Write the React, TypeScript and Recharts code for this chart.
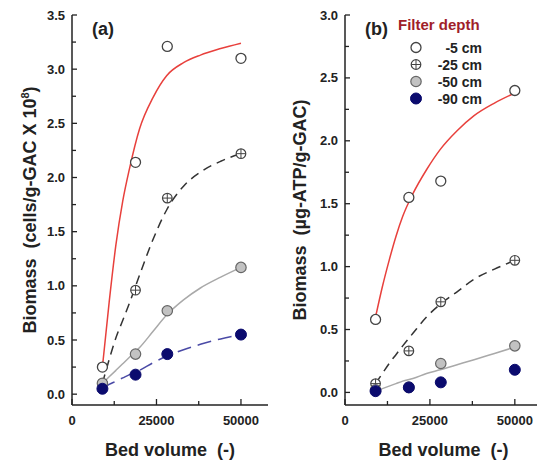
import React from "react";
import { ComposedChart, Line, Scatter, XAxis, YAxis, Legend } from "recharts";

const bedVolume = [9000, 18800, 28200, 50000];
const depths = ["-5 cm", "-25 cm", "-50 cm", "-90 cm"];

// (a) cells/g-GAC x 10^8
const cells5 = [0.25, 2.14, 3.21, 3.1];
const cells25 = [0.1, 0.96, 1.81, 2.22];
const cells50 = [0.1, 0.37, 0.77, 1.17];
const cells90 = [0.05, 0.18, 0.37, 0.55];

// (b) ug-ATP/g-GAC
const atp5 = [0.58, 1.55, 1.68, 2.4];
const atp25 = [0.07, 0.33, 0.72, 1.05];
const atp50 = [0.02, 0.04, 0.23, 0.37];
const atp90 = [0.01, 0.04, 0.08, 0.18];

// fitted curves
const fitBedVolume = [9000, 11000, 13000, 15000, 17000, 20000, 24000, 28000, 33000, 38000, 44000, 50000];
const cellsFit5 = [0.25, 0.85, 1.38, 1.78, 2.08, 2.45, 2.74, 2.94, 3.06, 3.13, 3.19, 3.24];
const cellsFit25 = [0.1, 0.32, 0.52, 0.68, 0.84, 1.1, 1.43, 1.7, 1.92, 2.05, 2.15, 2.22];
const cellsFit50 = [0.1, 0.16, 0.22, 0.28, 0.34, 0.43, 0.58, 0.73, 0.87, 0.98, 1.08, 1.17];
const cellsFit90 = [0.05, 0.09, 0.12, 0.15, 0.18, 0.22, 0.29, 0.35, 0.41, 0.46, 0.51, 0.55];
const atpFit5 = [0.6, 0.84, 1.05, 1.24, 1.4, 1.58, 1.77, 1.93, 2.08, 2.2, 2.3, 2.38];
const atpFit25 = [0.07, 0.15, 0.23, 0.3, 0.37, 0.47, 0.6, 0.7, 0.8, 0.9, 0.98, 1.05];
const atpFit50 = [0.01, 0.03, 0.05, 0.07, 0.09, 0.11, 0.15, 0.18, 0.22, 0.26, 0.31, 0.36];

const xTicks = [0, 12500, 25000, 37500, 50000];
const cellsTicks = [0, 0.25, 0.5, 0.75, 1, 1.25, 1.5, 1.75, 2, 2.25, 2.5, 2.75, 3, 3.25, 3.5];
const atpTicks = [0, 0.25, 0.5, 0.75, 1, 1.25, 1.5, 1.75, 2, 2.25, 2.5, 2.75, 3];

const font = "'Liberation Sans', Arial, sans-serif";
const ink = "#222";

const toPoints = (xs: number[], ys: number[]) => xs.map((x, i) => ({ x, y: ys[i] }));

const OpenDot = ({ cx, cy }: any) => (
  <circle cx={cx} cy={cy} r={5} fill="#fff" stroke="#444" strokeWidth={1.3} />
);
const CrossDot = ({ cx, cy }: any) => (
  <g>
    <circle cx={cx} cy={cy} r={4.8} fill="#fff" stroke="#444" strokeWidth={1.2} />
    <line x1={cx - 4.8} x2={cx + 4.8} y1={cy} y2={cy} stroke="#444" strokeWidth={1} />
    <line x1={cx} x2={cx} y1={cy - 4.8} y2={cy + 4.8} stroke="#444" strokeWidth={1} />
  </g>
);
const GrayDot = ({ cx, cy }: any) => (
  <circle cx={cx} cy={cy} r={5.2} fill="#c2c2c2" stroke="#666" strokeWidth={1.2} />
);
const NavyDot = ({ cx, cy }: any) => (
  <circle cx={cx} cy={cy} r={5.5} fill="#0b0b6e" stroke="#0b0b6e" strokeWidth={1} />
);
const markers = [OpenDot, CrossDot, GrayDot, NavyDot];

const XTick = ({ x, y, payload }: any) => {
  const major = payload.value % 25000 === 0;
  return (
    <g>
      <line x1={x} x2={x} y1={y} y2={y - (major ? 6 : 4)} stroke={ink} strokeWidth={1.3} />
      {major && (
        <text x={x} y={y + 20} textAnchor="middle" fontSize={13} fontWeight="bold" fill={ink} fontFamily={font}>
          {payload.value}
        </text>
      )}
    </g>
  );
};

const YTick = ({ x, y, payload }: any) => {
  const v = payload.value;
  const major = Math.abs(v * 2 - Math.round(v * 2)) < 1e-6;
  return (
    <g>
      <line x1={x} x2={x + (major ? 5 : 4)} y1={y} y2={y} stroke={ink} strokeWidth={1.3} />
      {major && (
        <text x={x - 7} y={y + 4.5} textAnchor="end" fontSize={13} fontWeight="bold" fill={ink} fontFamily={font}>
          {v.toFixed(1)}
        </text>
      )}
    </g>
  );
};

const XTitle = ({ viewBox }: any) => (
  <text
    x={viewBox.x + viewBox.width / 2}
    y={viewBox.y + 51}
    textAnchor="middle"
    fontSize={18}
    fontWeight="bold"
    fill={ink}
    fontFamily={font}
    style={{ whiteSpace: "pre" }}
  >
    {"Bed volume  (-)"}
  </text>
);

const YTitle = ({ viewBox, children }: any) => {
  const cx = viewBox.x + 36;
  const cy = viewBox.y + viewBox.height / 2;
  return (
    <text
      x={cx}
      y={cy}
      transform={`rotate(-90, ${cx}, ${cy})`}
      textAnchor="middle"
      fontSize={18}
      fontWeight="bold"
      fill={ink}
      fontFamily={font}
      style={{ whiteSpace: "pre" }}
    >
      {children}
    </text>
  );
};

const PanelTag = ({ left, text }: { left: number; text: string }) => (
  <div
    style={{
      position: "absolute",
      left,
      top: 19,
      fontSize: 18,
      fontWeight: "bold",
      color: ink,
      fontFamily: font,
      lineHeight: "20px",
    }}
  >
    {text}
  </div>
);

const DepthLegend = () => (
  <div style={{ fontFamily: font, fontWeight: "bold", width: 90 }}>
    <div style={{ color: "#a01e2a", fontSize: 15, lineHeight: "18px", whiteSpace: "nowrap" }}>Filter depth</div>
    <div style={{ marginTop: 5 }}>
      {depths.map((d, i) => {
        const M = markers[i];
        return (
          <div key={d} style={{ display: "flex", alignItems: "center", height: 17, width: 84 }}>
            <svg width={24} height={17} style={{ display: "block" }}>
              <M cx={18} cy={8.5} />
            </svg>
            <span style={{ flex: 1, textAlign: "right", fontSize: 14, color: ink }}>{d}</span>
          </div>
        );
      })}
    </div>
  </div>
);

const Panel = ({
  fits,
  points,
  yTicks,
  yMax,
  title,
  withLegend,
  width,
  yAxisWidth,
  fitStyles,
}: any) => (
  <ComposedChart width={width} height={464} margin={{ top: 15, right: 0, left: 0, bottom: 0 }}>
    <XAxis
      type="number"
      dataKey="x"
      domain={[0, 58000]}
      ticks={xTicks}
      interval={0}
      height={59}
      tickSize={0}
      tickMargin={0}
      tickLine={false}
      tick={<XTick />}
      axisLine={{ stroke: ink, strokeWidth: 1.5 }}
      allowDataOverflow
      label={<XTitle />}
    />
    <YAxis
      type="number"
      dataKey="y"
      domain={[-0.1, yMax]}
      ticks={yTicks}
      interval={0}
      width={yAxisWidth}
      tickSize={0}
      tickMargin={0}
      tickLine={false}
      tick={<YTick />}
      axisLine={{ stroke: ink, strokeWidth: 1.5 }}
      allowDataOverflow
      label={<YTitle>{title}</YTitle>}
    />
    {fits.map((f: any, i: number) => (
      <Line
        key={"fit" + i}
        data={toPoints(fitBedVolume, f)}
        dataKey="y"
        type="monotone"
        stroke={fitStyles[i].color}
        strokeWidth={fitStyles[i].width}
        strokeDasharray={fitStyles[i].dash}
        dot={false}
        activeDot={false}
        legendType="none"
        isAnimationActive={false}
      />
    ))}
    {points.map((p: number[], i: number) => {
      const M = markers[i];
      return (
        <Scatter
          key={depths[i]}
          name={depths[i]}
          data={toPoints(bedVolume, p)}
          dataKey="y"
          shape={(props: any) => <M cx={props.cx} cy={props.cy} />}
          isAnimationActive={false}
        />
      );
    })}
    {withLegend && (
      <Legend
        layout="horizontal"
        verticalAlign="middle"
        align="center"
        content={() => <DepthLegend />}
        wrapperStyle={{ left: 128, top: 16, width: 100, height: 90 }}
      />
    )}
  </ComposedChart>
);

const fitStylesA = [
  { color: "#e8403c", width: 1.5, dash: undefined },
  { color: "#333", width: 1.5, dash: "9 6" },
  { color: "#a9a9a9", width: 1.5, dash: undefined },
  { color: "#4a4aa6", width: 1.5, dash: "14 7" },
];
const fitStylesB = fitStylesA.slice(0, 3);

const cellsTitle = (
  <>
    <tspan>{"Biomass  (cells/g-GAC X 10"}</tspan>
    <tspan dy={-7} fontSize={11}>8</tspan>
    <tspan dy={7}>)</tspan>
  </>
);

export default function App() {
  return (
    <div
      style={{
        position: "absolute",
        left: 0,
        top: 0,
        width: 537,
        height: 464,
        overflow: "hidden",
        background: "#fff",
      }}
    >
      <div style={{ position: "absolute", left: 0, top: 0 }}>
        <Panel
          width={268}
          yAxisWidth={72}
          fits={[cellsFit5, cellsFit25, cellsFit50, cellsFit90]}
          points={[cells5, cells25, cells50, cells90]}
          yTicks={cellsTicks}
          yMax={3.5}
          title={cellsTitle}
          fitStyles={fitStylesA}
        />
      </div>
      <PanelTag left={92} text="(a)" />
      <div style={{ position: "absolute", left: 270, top: 0 }}>
        <Panel
          width={272}
          yAxisWidth={75}
          fits={[atpFit5, atpFit25, atpFit50]}
          points={[atp5, atp25, atp50, atp90]}
          yTicks={atpTicks}
          yMax={3.0}
          title={"Biomass  (\u00b5g-ATP/g-GAC)"}
          withLegend
          fitStyles={fitStylesB}
        />
      </div>
      <PanelTag left={365} text="(b)" />
    </div>
  );
}
